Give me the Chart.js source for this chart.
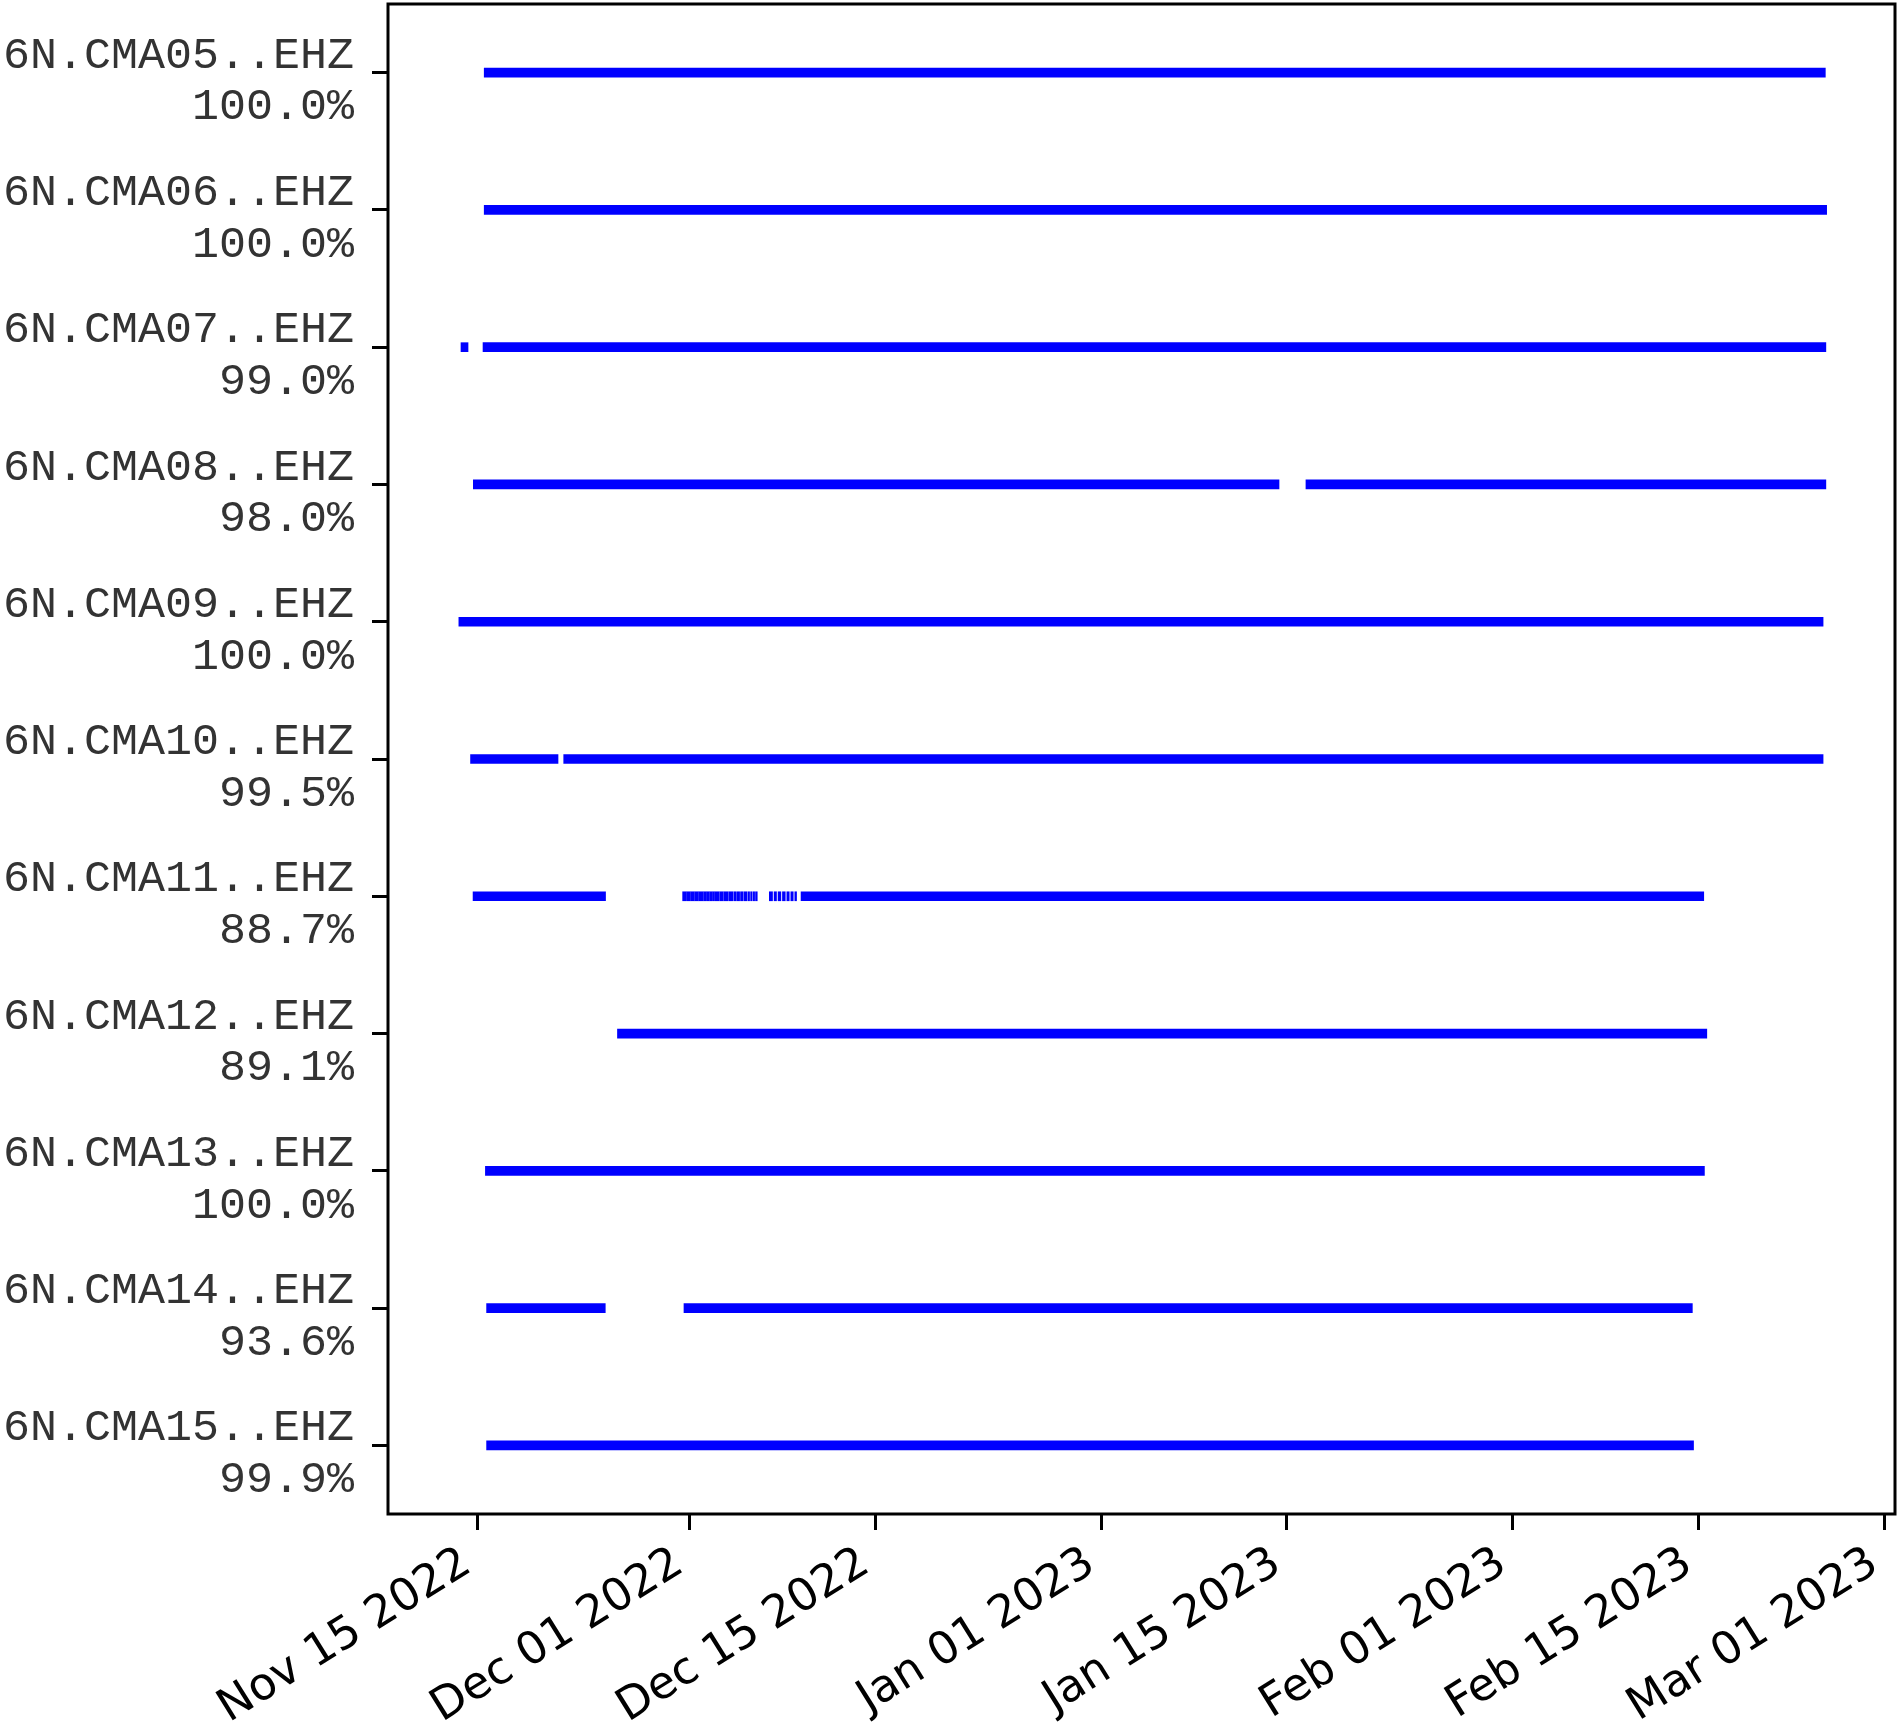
<!DOCTYPE html>
<html>
<head>
<meta charset="utf-8">
<script src="https://cdn.jsdelivr.net/npm/chart.js@4.4.1/dist/chart.umd.min.js"></script>
<style>
  html, body { margin: 0; padding: 0; background: #fff; }
  #wrap { width: 1898px; height: 1724px; position: relative; }
</style>
</head>
<body>
<div id="wrap"><canvas id="myChart"></canvas></div>
<script>
// stations (top to bottom) and their coverage
const stations = ['6N.CMA05..EHZ', '6N.CMA06..EHZ', '6N.CMA07..EHZ', '6N.CMA08..EHZ',
  '6N.CMA09..EHZ', '6N.CMA10..EHZ', '6N.CMA11..EHZ', '6N.CMA12..EHZ',
  '6N.CMA13..EHZ', '6N.CMA14..EHZ', '6N.CMA15..EHZ'];
const coverage = ['100.0%', '100.0%', '99.0%', '98.0%', '100.0%', '99.5%',
  '88.7%', '89.1%', '100.0%', '93.6%', '99.9%'];

// data segments [start, end] (UTC)
const cma05 = [['2022-11-15T12:29', '2023-02-24T13:26']];
const cma06 = [['2022-11-15T12:29', '2023-02-24T15:50']];
const cma07 = [['2022-11-13T18:29', '2022-11-14T07:12'], ['2022-11-15T10:19', '2023-02-24T14:24']];
const cma08 = [['2022-11-14T16:48', '2023-01-14T09:36'], ['2023-01-16T10:19', '2023-02-24T14:24']];
const cma09 = [['2022-11-13T14:38', '2023-02-24T09:22']];
const cma10 = [['2022-11-14T11:46', '2022-11-21T01:55'], ['2022-11-21T12:14', '2023-02-24T09:22']];
const cma11 = [
  ['2022-11-14T16:19', '2022-11-24T15:50'],
  ['2022-11-30T11:17', '2022-11-30T18:14'], ['2022-11-30T19:12', '2022-12-01T01:26'],
  ['2022-12-01T02:24', '2022-12-01T07:55'], ['2022-12-01T08:53', '2022-12-01T15:50'],
  ['2022-12-01T16:48', '2022-12-02T00:14'], ['2022-12-02T01:12', '2022-12-02T06:29'],
  ['2022-12-02T07:26', '2022-12-02T11:02'], ['2022-12-02T12:00', '2022-12-02T17:17'],
  ['2022-12-02T18:14', '2022-12-02T20:53'], ['2022-12-02T21:50', '2022-12-03T05:17'],
  ['2022-12-03T06:29', '2022-12-03T12:29'], ['2022-12-03T13:41', '2022-12-03T21:07'],
  ['2022-12-03T22:34', '2022-12-04T06:14'], ['2022-12-04T07:55', '2022-12-04T12:29'],
  ['2022-12-04T14:10', '2022-12-04T18:14'], ['2022-12-04T19:55', '2022-12-05T00:14'],
  ['2022-12-05T01:55', '2022-12-05T07:12'], ['2022-12-05T09:07', '2022-12-05T12:14'],
  ['2022-12-05T14:10', '2022-12-05T17:02'], ['2022-12-05T18:58', '2022-12-05T21:22'],
  ['2022-12-05T23:02', '2022-12-06T02:10'],
  ['2022-12-07T00:00', '2022-12-07T05:46'], ['2022-12-07T08:38', '2022-12-07T12:58'],
  ['2022-12-07T15:50', '2022-12-07T20:53'], ['2022-12-07T23:46', '2022-12-08T04:48'],
  ['2022-12-08T07:41', '2022-12-08T12:00'], ['2022-12-08T14:53', '2022-12-08T19:12'],
  ['2022-12-08T22:05', '2022-12-09T01:12'],
  ['2022-12-09T09:22', '2023-02-15T09:36']];
const cma12 = [['2022-11-25T13:26', '2023-02-15T15:07']];
const cma13 = [['2022-11-15T14:38', '2023-02-15T10:48']];
const cma14 = [['2022-11-15T16:48', '2022-11-24T15:22'], ['2022-11-30T13:41', '2023-02-14T12:58']];
const cma15 = [['2022-11-15T16:48', '2023-02-14T15:07']];

// x axis
const tickDates = ['2022-11-15', '2022-12-01', '2022-12-15', '2023-01-01',
  '2023-01-15', '2023-02-01', '2023-02-15', '2023-03-01'];
const tickLabels = ['Nov 15 2022', 'Dec 01 2022', 'Dec 15 2022', 'Jan 01 2023',
  'Jan 15 2023', 'Feb 01 2023', 'Feb 15 2023', 'Mar 01 2023'];
const xMin = '2022-11-08T06:30';
const xMax = '2023-03-01T19:25';

function t(s) {
  return Date.parse(s.length > 10 ? s + ':00Z' : s + 'T00:00:00Z');
}

const segments = [cma05, cma06, cma07, cma08, cma09, cma10, cma11, cma12, cma13, cma14, cma15];
const bars = [];
segments.forEach(function (list, row) {
  list.forEach(function (seg) {
    bars.push({ x: [t(seg[0]), t(seg[1])], y: stations[row] });
  });
});

// frame round the plot
const frame = {
  id: 'frame',
  afterDraw(chart) {
    const a = chart.chartArea, ctx = chart.ctx;
    ctx.save();
    ctx.strokeStyle = '#000';
    ctx.lineWidth = 3;
    ctx.strokeRect(a.left, a.top, a.right - a.left, a.bottom - a.top);
    ctx.restore();
  }
};

new Chart(document.getElementById('myChart'), {
  type: 'bar',
  data: {
    labels: stations,
    datasets: [{
      data: bars,
      backgroundColor: '#0000ff',
      borderWidth: 0,
      barThickness: 9
    }]
  },
  plugins: [frame],
  options: {
    indexAxis: 'y',
    responsive: true,
    maintainAspectRatio: false,
    animation: false,
    layout: { padding: { top: 4, right: 3, left: 0, bottom: 0 } },
    plugins: { legend: { display: false }, tooltip: { enabled: false } },
    scales: {
      x: {
        type: 'linear',
        min: t(xMin),
        max: t(xMax),
        afterBuildTicks: function (scale) {
          scale.ticks = tickDates.map(function (d) { return { value: t(d) }; });
        },
        afterFit: function (scale) {
          scale.height = 210;
          scale.paddingLeft = 0;
          scale.paddingRight = 0;
        },
        border: { display: false },
        grid: { drawOnChartArea: false, tickLength: 16, tickWidth: 3, tickColor: '#000' },
        ticks: {
          autoSkip: false,
          minRotation: 32,
          maxRotation: 32,
          padding: 7,
          labelOffset: -10,
          color: '#000',
          font: { family: 'DejaVu Sans', size: 45 },
          callback: function (v, i) { return tickLabels[i]; }
        }
      },
      y: {
        afterFit: function (scale) {
          scale.width = 388;
          scale.paddingTop = 0;
          scale.paddingBottom = 0;
        },
        border: { display: false },
        grid: { offset: false, drawOnChartArea: false, tickLength: 16, tickWidth: 3, tickColor: '#000' },
        ticks: {
          autoSkip: false,
          padding: 18,
          labelOffset: 9,
          color: '#333',
          font: { family: 'Liberation Mono', size: 45, lineHeight: 1.15 },
          callback: function (v, i) { return [stations[i], coverage[i]]; }
        }
      }
    }
  }
});
</script>
</body>
</html>
